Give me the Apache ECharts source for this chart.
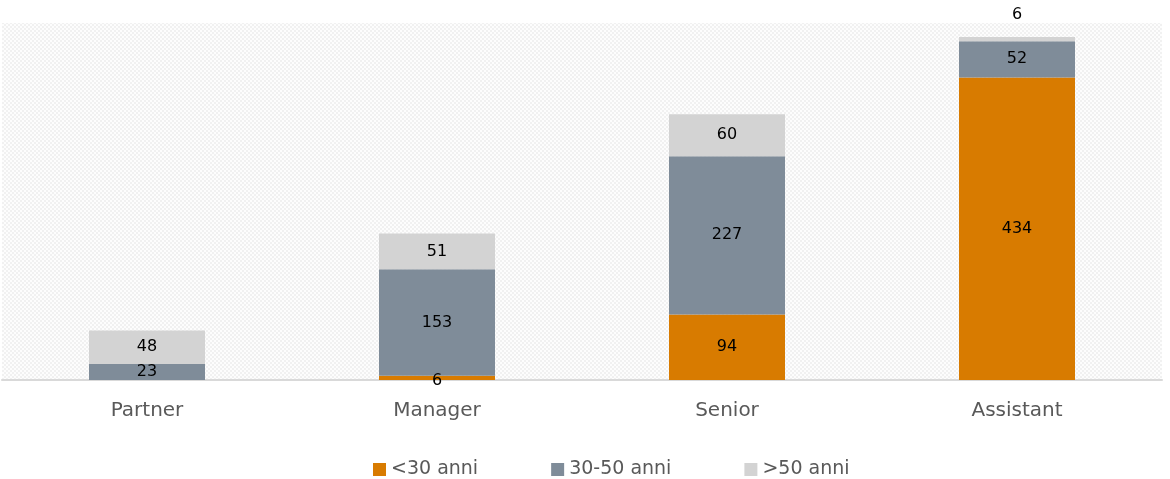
<!DOCTYPE html>
<html>
<head>
<meta charset="utf-8">
<script src="https://cdn.jsdelivr.net/npm/echarts@6/dist/echarts.min.js"></script>
<style>
  html, body { margin: 0; padding: 0; background: #fff; }
  #chart { width: 1170px; height: 479px; }
</style>
</head>
<body>
<div id="chart"></div>
<script>
const categories = ['Partner', 'Manager', 'Senior', 'Assistant'];
const seriesNames = ['<30 anni', '30-50 anni', '>50 anni'];
const under30 = [0, 6, 94, 434];
const from30to50 = [23, 153, 227, 52];
const over50 = [48, 51, 60, 6];
const colors = ['#d87b00', '#7f8c99', '#d3d3d3'];

// small checkered pattern for the plot background
const tile = document.createElement('canvas');
tile.width = 4;
tile.height = 4;
const tctx = tile.getContext('2d');
tctx.fillStyle = '#fdfdfd';
tctx.fillRect(0, 0, 4, 4);
tctx.fillStyle = '#f1f1f1';
tctx.fillRect(0, 0, 2, 2);
tctx.fillRect(2, 2, 2, 2);

const font = '"DejaVu Sans", Verdana, sans-serif';
const chart = echarts.init(document.getElementById('chart'));

const makeData = (values, idx) => values.map((v) => {
  if (v === 0) return null;
  const item = { value: v };
  // small segments: Assistant >50 goes above the bar, Manager <30 sits on the axis
  if (idx === 2 && v < 10) item.label = { position: 'top', distance: 14 };
  if (idx === 0 && v < 10) item.label = { offset: [0, 3] };
  return item;
});

chart.setOption({
  animation: false,
  grid: {
    left: 2, right: 8, top: 23, bottom: 99,
    show: true,
    borderWidth: 0,
    backgroundColor: { image: tile, repeat: 'repeat' },
  },
  legend: {
    top: 455,
    left: 368,
    itemWidth: 13,
    itemHeight: 13,
    itemGap: 73,
    icon: 'rect',
    textStyle: { color: '#595959', fontSize: 19, fontFamily: font },
    data: seriesNames,
  },
  xAxis: {
    type: 'category',
    data: categories,
    axisLine: { lineStyle: { color: '#d9d9d9', width: 2 } },
    axisTick: { show: false },
    axisLabel: { color: '#595959', fontSize: 20, fontFamily: font, margin: 21 },
  },
  yAxis: {
    type: 'value',
    min: 0,
    max: 512,
    show: false,
    splitLine: { show: false },
  },
  series: [under30, from30to50, over50].map((vals, idx) => ({
    name: seriesNames[idx],
    type: 'bar',
    stack: 'total',
    barWidth: '40%',
    itemStyle: { color: colors[idx] },
    label: {
      show: true,
      color: '#000',
      fontSize: 16,
      fontFamily: font,
      position: 'inside',
    },
    data: makeData(vals, idx),
  })),
});
</script>
</body>
</html>
